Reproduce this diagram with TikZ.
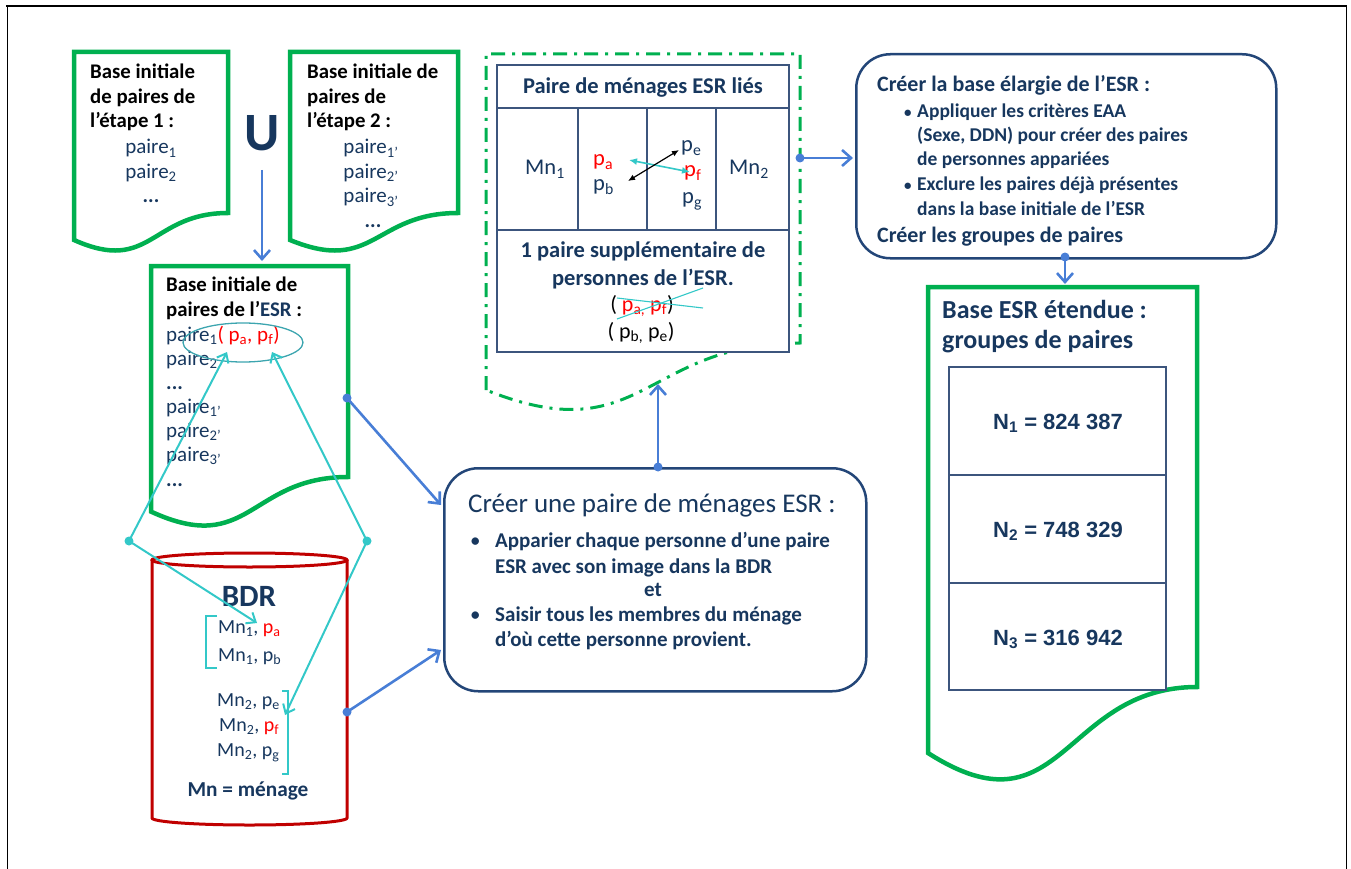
\documentclass[tikz,border=0pt]{standalone}
\usepackage{fontspec}
\setmainfont{Carlito}
\newfontfamily\arialf{Liberation Sans}
\usetikzlibrary{arrows.meta}

\definecolor{navy}{RGB}{23,55,94}
\definecolor{docgreen}{RGB}{0,176,80}
\definecolor{linkblue}{RGB}{72,126,214}
\definecolor{boxblue}{RGB}{35,70,120}
\definecolor{gridblue}{RGB}{60,85,125}
\definecolor{aqua}{RGB}{51,200,200}
\definecolor{ringteal}{RGB}{60,165,175}
\definecolor{dbred}{RGB}{192,0,0}
\definecolor{pred}{RGB}{255,0,0}

\newcommand\fsz[1]{\fontsize{#1}{#1}\selectfont}
\newcommand\lo[1]{\textsubscript{#1}}
\newcommand\rd[1]{{\color{pred}#1}}

\tikzset{
  txt/.style={anchor=base west, inner sep=0pt, text=navy, font=\fsz{21}},
  ctxt/.style={anchor=base, inner sep=0pt, text=navy, font=\fsz{21}},
  head/.style={txt, text=black, font=\bfseries\fsz{20.8}},
  docline/.style={draw=docgreen, line width=4.5pt, line join=miter},
  flowbox/.style={draw=boxblue, fill=white, line width=2.5pt, rounded corners=34pt,
    anchor=north west, inner sep=0pt},
  grid/.style={draw=gridblue, line width=1.5pt},
  link/.style={draw=linkblue, line width=2.6pt,
    -{Straight Barb[length=9pt,width=16pt]}},
  tie/.style={draw=aqua, line width=2pt,
    -{Straight Barb[length=8pt,width=13pt]}},
}

\begin{document}
\begin{tikzpicture}[x=1pt,y=-1pt]
\useasboundingbox (0,0) rectangle (1351,869);

% page frame
\draw[black, line width=1pt] (7,869) -- (7,6);
\draw[black, line width=1pt] (1346,869) -- (1346,6);
\draw[black, line width=2pt] (6,6) -- (1347,6);

% ---------- initial bases of steps 1 and 2 ----------
\draw[docline] (74,240) -- (74,52) -- (228,52) -- (228,213)
  .. controls (151,213) and (151,274.5) .. (74,240) -- cycle;
\node[head] (s1a) at (90,79) {Base initiale};
\node[head] (s1b) at (90,103.5) {de paires de};
\node[head] (s1c) at (90,128) {l’étape 1 :};
\node[ctxt] (s1d) at (151,154) {paire\lo{1}};
\node[ctxt] (s1e) at (151,178.5) {paire\lo{2}};
\node[ctxt, font=\bfseries\fsz{20.8}] (s1f) at (151,203) {...};

\draw[docline] (290,240) -- (290,52) -- (458,52) -- (458,213)
  .. controls (374,213) and (374,274.5) .. (290,240) -- cycle;
\node[head] (s2a) at (307,79) {Base initiale de};
\node[head] (s2b) at (307,103.5) {paires de};
\node[head] (s2c) at (307,128) {l’étape 2 :};
\node[ctxt] (s2d) at (371,154) {paire\lo{1’}};
\node[ctxt] (s2e) at (371,178.5) {paire\lo{2’}};
\node[ctxt] (s2f) at (371,203) {paire\lo{3’}};
\node[ctxt, font=\bfseries\fsz{20.8}] (s2g) at (373,227) {...};

% union sign
\node[anchor=base, inner sep=0pt, text=navy, font=\bfseries\fsz{54}] (union) at (262,151) {U};

% ---------- initial base of the ESR ----------
\draw[docline] (151,511.6) -- (151,266) -- (348,266) -- (348,477)
  .. controls (249.5,477) and (249.5,557) .. (151,511.6) -- cycle;
\node[head] (ea) at (166,291) {Base initiale de};
\node[head] (eb) at (166,316) {paires de l’{\color{navy}ESR} :};
\node[txt] (ec) at (166,341) {paire\lo{1}\rd{( p\lo{a}, p\lo{f})}};
\node[txt] (ed) at (166,365) {paire\lo{2}};
\node[txt, font=\bfseries\fsz{20.8}] (ee) at (166,389) {...};
\node[txt] (ef) at (166,413) {paire\lo{1’}};
\node[txt] (eg) at (166,437) {paire\lo{2’}};
\node[txt] (eh) at (166,461) {paire\lo{3’}};
\node[txt, font=\bfseries\fsz{20.8}] (ei) at (166,486) {...};
\draw[ringteal, line width=1.3pt] (243,342.5) ellipse [x radius=60pt, y radius=19.5pt];

% ---------- BDR cylinder ----------
\draw[dbred, line width=3pt] (152,560) -- (152,818)
  arc[start angle=180, end angle=360, x radius=97.5pt, y radius=7pt] -- (347,560);
\draw[dbred, line width=3pt] (249.5,560) ellipse [x radius=97.5pt, y radius=7pt];
\node[ctxt, font=\bfseries\fsz{31}] (bdr) at (249,606) {BDR};
\node[txt, font=\fsz{20}] (b1) at (218,633) {Mn\lo{1}, \rd{p\lo{a}}};
\node[txt, font=\fsz{20}] (b2) at (218,661) {Mn\lo{1}, p\lo{b}};
\node[txt, font=\fsz{20}] (b3) at (217,706) {Mn\lo{2}, p\lo{e}};
\node[txt, font=\fsz{20}] (b4) at (219,731) {Mn\lo{2}, \rd{p\lo{f}}};
\node[txt, font=\fsz{20}] (b5) at (217,756) {Mn\lo{2}, p\lo{g}};
\node[ctxt, font=\bfseries\fsz{21.3}] (b6) at (248,796) {Mn = ménage};
\draw[aqua, line width=2pt] (217,616) -- (206,616) -- (206,668) -- (217,668);
\draw[aqua, line width=2pt] (282,691) -- (288,691) -- (288,774) -- (282,774);

% ---------- linked household pair ----------
\draw[docgreen, line width=3pt, dash pattern=on 14pt off 7pt on 3pt off 7pt]
  (486,390) -- (486,54) -- (800,54) -- (800,343)
  .. controls (643,343) and (643,453) .. (486,390);
\draw[grid, fill=white] (497,65) rectangle (789,352);
\draw[grid] (497,108) -- (789,108);
\draw[grid] (497,230) -- (789,230);
\draw[grid] (578,108) -- (578,230);
\draw[grid] (647,108) -- (647,230);
\draw[grid] (716,108) -- (716,230);
\node[ctxt, font=\bfseries\fsz{22.5}] (ta) at (643,94) {Paire de ménages ESR liés};
\node[ctxt, font=\fsz{22.5}] (tm1) at (545,175) {Mn\lo{1}};
\node[ctxt, font=\fsz{22.5}] (tm2) at (749,175) {Mn\lo{2}};
\node[txt, font=\fsz{22.5}] (tpa) at (593,166) {\rd{p\lo{a}}};
\node[txt, font=\fsz{22.5}] (tpb) at (593,191) {p\lo{b}};
\node[txt, font=\fsz{22.5}] (tpe) at (681,152) {p\lo{e}};
\node[txt, font=\fsz{22.5}] (tpf) at (684,177) {\rd{p\lo{f}}};
\node[txt, font=\fsz{22.5}] (tpg) at (682,204) {p\lo{g}};
\coordinate (cyl) at (629,160);
\coordinate (cyr) at (690,172);
\coordinate (bkl) at (628,181);
\coordinate (bkr) at (679,150);
\draw[aqua, line width=1.6pt, {Latex[length=8pt,width=7pt]}-{Latex[length=8pt,width=7pt]}] (cyl) -- (cyr);
\draw[black, line width=1.2pt, {Latex[length=7pt,width=6pt]}-{Latex[length=7pt,width=6pt]}] (bkl) -- (bkr);
\node[ctxt, font=\bfseries\fsz{22.5}] (tb1) at (643,257) {1 paire supplémentaire de};
\node[ctxt, font=\bfseries\fsz{22.5}] (tb2) at (643,285) {personnes de l’ESR.};
\node[ctxt, font=\fsz{22}, text=black] (tb3) at (642,311) {( \rd{p\lo{a,} p\lo{f}})};
\node[ctxt, font=\fsz{22}, text=black] (tb4) at (641,338) {( p\lo{b,} p\lo{e})};
\draw[aqua, line width=1.1pt] (617,298) -- (703,308);
\draw[aqua, line width=1.1pt] (617,319) -- (703,288);

% ---------- process boxes ----------
\node[flowbox, minimum width=422pt, minimum height=223pt] (mk) at (443,467) {};
\node[txt, font=\fsz{27}] (mka) at (468,512) {Créer une paire de ménages ESR :};
\node[txt, font=\fsz{21}] (mkb) at (470,547) {\textbullet};
\node[txt, font=\fsz{21}] (mkc) at (470,621) {\textbullet};
\node[txt, font=\bfseries\fsz{21}] (mk1) at (495,547) {Apparier chaque personne d’une paire};
\node[txt, font=\bfseries\fsz{21}] (mk2) at (495,573) {ESR avec son image dans la BDR};
\node[ctxt, font=\bfseries\fsz{21}] (mk3) at (653,596) {et};
\node[txt, font=\bfseries\fsz{21}] (mk4) at (495,621) {Saisir tous les membres du ménage};
\node[txt, font=\bfseries\fsz{21}] (mk5) at (495,646) {d’où cette personne provient.};

\node[flowbox, minimum width=420pt, minimum height=204pt] (ext) at (855,53) {};
\node[txt, font=\bfseries\fsz{22}] (exa) at (877,92) {Créer la base élargie de l’ESR :};
\node[txt, font=\bfseries\fsz{15}] (exb) at (904,118) {\textbullet};
\node[txt, font=\bfseries\fsz{15}] (exc) at (904,191) {\textbullet};
\node[txt, font=\bfseries\fsz{19.5}] (ex1) at (917,118) {Appliquer les critères EAA};
\node[txt, font=\bfseries\fsz{19.5}] (ex2) at (917,142) {(Sexe, DDN) pour créer des paires};
\node[txt, font=\bfseries\fsz{19.5}] (ex3) at (917,166) {de personnes appariées};
\node[txt, font=\bfseries\fsz{19.5}] (ex4) at (917,191) {Exclure les paires déjà présentes};
\node[txt, font=\bfseries\fsz{19.5}] (ex5) at (917,215) {dans la base initiale de l’ESR};
\node[txt, font=\bfseries\fsz{22}] (ex6) at (877,242) {Créer les groupes de paires};

% ---------- extended ESR base ----------
\draw[docline] (928,753) -- (928,287) -- (1197,287) -- (1197,687)
  .. controls (1062.5,687) and (1062.5,839) .. (928,753) -- cycle;
\node[txt, font=\bfseries\fsz{26}] (xa) at (942,318) {Base ESR étendue :};
\node[txt, font=\bfseries\fsz{26}] (xb) at (942,348) {groupes de paires};
\draw[grid, fill=white] (949,367) rectangle (1166,690);
\draw[grid] (949,475) -- (1166,475);
\draw[grid] (949,583) -- (1166,583);
\node[ctxt, font=\arialf\bfseries\fsz{22}] (n1) at (1058,429) {N\lo{1} = 824 387};
\node[ctxt, font=\arialf\bfseries\fsz{22}] (n2) at (1058,537) {N\lo{2} = 748 329};
\node[ctxt, font=\arialf\bfseries\fsz{22}] (n3) at (1058,645) {N\lo{3} = 316 942};

% ---------- connectors ----------
\coordinate (ustart) at (262,170);
\coordinate (esrtop) at (262,261);
\draw[link] (ustart) -- (esrtop);

\coordinate (esrR) at (347,398);
\coordinate (bdrR) at (347,712);
\coordinate (mkIn1) at (441,505);
\coordinate (mkIn2) at (441,650);
\draw[link] (esrR) -- (mkIn1);
\draw[link] (bdrR) -- (mkIn2);

\coordinate (mkTop) at (658,467);
\coordinate (pairBot) at (658,384);
\draw[link] (mkTop) -- (pairBot);

\coordinate (pairR) at (800,158);
\coordinate (extIn) at (853,158);
\draw[link] (pairR) -- (extIn);

\coordinate (extBot) at (1065,257);
\coordinate (bigTop) at (1065,284);
\draw[link] (extBot) -- (bigTop);

\foreach \p in {esrR,bdrR,mkTop,pairR,extBot}
  \fill[linkblue] (\p) circle (4.5pt);

% person links between the ESR pair and the BDR
\coordinate (ql) at (129,541);
\coordinate (qr) at (367,541);
\coordinate (ringA) at (227,352);
\coordinate (ringF) at (272,352);
\coordinate (bdrA) at (257,623);
\coordinate (bdrF) at (285,715);
\draw[tie] (ql) -- (ringA);
\draw[tie] (ql) -- (bdrA);
\draw[tie] (qr) -- (ringF);
\draw[tie] (qr) -- (bdrF);
\fill[aqua] (ql) circle (4.5pt);
\fill[aqua] (qr) circle (4.5pt);
\end{tikzpicture}
\end{document}
